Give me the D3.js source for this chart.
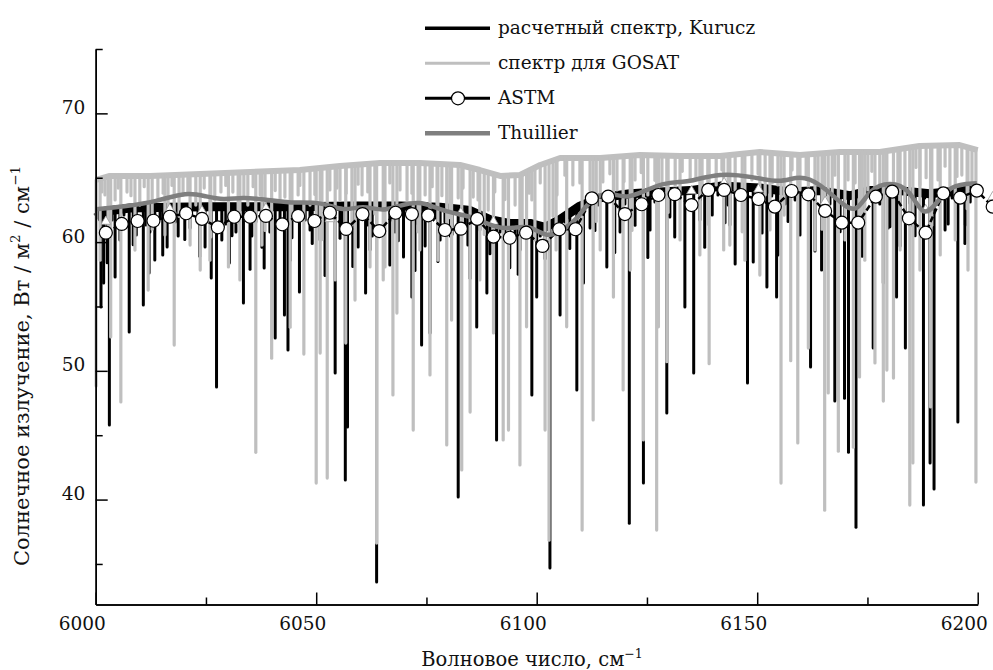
<!DOCTYPE html>
<html>
<head>
<meta charset="utf-8">
<script src="https://cdn.jsdelivr.net/npm/d3@7"></script>
<style>
  body { margin: 0; background: #fff; }
  svg { font-family: "DejaVu Serif", serif; }
</style>
</head>
<body>
<div id="chart"></div>
<script>
let width = 993,
    height = 670;

const fontFam = "DejaVu Serif";

// tick values
const xMajor = [6000, 6050, 6100, 6150, 6200];
const xMinor = [6025, 6075, 6125, 6175];
const yMajor = [40, 50, 60, 70];
const yMinor = [35, 45, 55, 65, 75];

// ASTM (circles)
const astmWn = [6002.3, 6005.9, 6009.5, 6013.1, 6016.8, 6020.5, 6024.1, 6027.7, 6031.4, 6035.0,
  6038.6, 6042.3, 6045.9, 6049.6, 6053.1, 6056.8, 6060.5, 6064.3, 6068.0, 6071.7,
  6075.4, 6079.2, 6082.8, 6086.5, 6090.2, 6093.9, 6097.6, 6101.3, 6105.1, 6108.8,
  6112.5, 6116.2, 6120.0, 6123.8, 6127.6, 6131.3, 6135.1, 6138.9, 6142.5, 6146.3,
  6150.3, 6154.0, 6157.8, 6161.6, 6165.4, 6169.2, 6172.9, 6176.9, 6180.6, 6184.4,
  6188.2, 6192.2, 6196.0, 6199.8, 6203.4];
const astmVal = [60.73, 61.41, 61.64, 61.66, 61.97, 62.24, 61.80, 61.15, 61.97, 61.97,
  62.03, 61.38, 62.03, 61.64, 62.28, 61.02, 62.18, 60.86, 62.28, 62.18,
  62.08, 60.94, 61.04, 61.80, 60.42, 60.34, 60.73, 59.70, 61.00, 61.00,
  63.40, 63.53, 62.18, 62.94, 63.66, 63.72, 62.88, 64.05, 64.05, 63.66,
  63.35, 62.75, 63.97, 63.71, 62.42, 61.51, 61.51, 63.53, 63.92, 61.85,
  60.73, 63.79, 63.45, 64.00, 62.75];

// small triangles partly hidden behind the circles
const triWn = [6002.3, 6016.8, 6024.1, 6038.6, 6053.1, 6082.8, 6090.2, 6135.1, 6142.5, 6150.3, 6165.4, 6188.2, 6203.4];
const triVal = [61.6, 62.57, 62.42, 62.63, 61.8, 62.28, 61.6, 63.97, 64.6, 64.1, 63.14, 62.5, 63.5];

// Thuillier
const thuWn = [6000.2, 6006.2, 6013.8, 6020.6, 6025.2, 6028.9, 6033.4, 6037.9, 6044.1, 6051.5,
  6056.1, 6060.6, 6065.1, 6069.0, 6073.5, 6076.5, 6079.6, 6083.3, 6086.4, 6090.9,
  6094.6, 6098.5, 6102.3, 6106.0, 6109.1, 6112.8, 6117.3, 6120.4, 6124.1, 6128.6,
  6132.5, 6134.7, 6141.5, 6149.0, 6155.2, 6159.7, 6164.2, 6169.4, 6172.6, 6175.6,
  6180.1, 6184.6, 6187.6, 6190.7, 6193.7, 6199.8];
const thuVal = [62.55, 62.75, 63.14, 63.92, 63.53, 63.27, 63.48, 63.33, 63.01, 63.14,
  62.36, 62.88, 62.36, 62.88, 63.14, 62.75, 62.36, 62.11, 61.85, 61.07,
  61.07, 61.33, 60.30, 60.94, 61.72, 63.66, 63.79, 63.40, 63.92, 64.57,
  64.69, 64.69, 65.39, 65.08, 64.57, 65.21, 64.57, 62.88, 62.24, 64.18,
  64.69, 64.18, 61.85, 63.01, 64.44, 64.57];

// Kurucz: middle of the dense band at the top of the spectrum
const kurContWn = [6000.1, 6002.1, 6007.8, 6016.8, 6025.9, 6035.0, 6046.3, 6057.7, 6069.0, 6078.1,
  6084.9, 6089.4, 6093.9, 6098.5, 6101.9, 6105.3, 6109.8, 6114.4, 6121.2, 6128.0,
  6134.8, 6141.6, 6150.6, 6157.4, 6164.2, 6171.0, 6175.5, 6182.3, 6189.1, 6195.9, 6200.0];
const kurContVal = [61.9, 62.4, 62.65, 62.7, 62.75, 62.75, 62.75, 62.8, 62.8, 62.7,
  62.45, 61.75, 61.45, 61.45, 61.15, 61.75, 62.8, 63.45, 63.75, 63.9,
  64.0, 64.35, 64.2, 63.9, 64.0, 63.6, 64.0, 64.0, 63.75, 64.0, 64.0];
// Kurucz absorption lines: position and line-core value
const kurLineWn = [6001.2, 6001.8, 6003.1, 6004.4, 6007.6, 6010.8, 6013.4, 6015.2, 6016.2, 6024.8,
  6026.2, 6027.4, 6030.3, 6033.5, 6038.2, 6040.7, 6042.8, 6043.6, 6046.2, 6054.3,
  6056.6, 6057.1, 6059.5, 6061.2, 6063.7, 6065.4, 6066.7, 6069.8, 6071.7, 6073.9,
  6075.8, 6082.2, 6086.4, 6088.7, 6090.9, 6098.9, 6100.0, 6103.0, 6105.3, 6109.1,
  6110.6, 6115.9, 6121.0, 6124.2, 6129.5, 6130.2, 6135.6, 6147.8, 6162.1, 6167.6,
  6169.8, 6170.7, 6172.4, 6176.3, 6183.6, 6187.7, 6189.2, 6190.1, 6195.5, 6133.6,
  6149.1, 6152.2, 6154.4, 6164.6, 6178.6, 6181.6,
  6005.5, 6009.2, 6012.3, 6018.7, 6021.4, 6028.6, 6031.8, 6035.4, 6039.5, 6044.5,
  6048.6, 6050.9, 6062.7, 6067.9, 6078.1, 6080.4, 6084.4, 6092.8, 6096.2, 6112.1,
  6118.9, 6125.7, 6137.0, 6139.8, 6143.8, 6157.4, 6159.7, 6173.3, 6179.7, 6185.1,
  6192.6, 6197.2,
  6002.6, 6008.5, 6012.1, 6020.2, 6023.6, 6030.9, 6035.0, 6037.7, 6044.1, 6049.1,
  6052.0, 6055.4, 6058.3, 6062.2, 6068.6, 6072.4, 6074.7, 6077.6, 6080.8, 6084.9,
  6089.4, 6093.9, 6095.8, 6101.9, 6107.5, 6113.2, 6117.7, 6122.3, 6125.2, 6131.3,
  6138.1, 6142.7, 6145.0, 6151.1, 6154.7, 6157.0, 6163.1, 6168.8, 6173.8, 6180.1,
  6182.4, 6185.8, 6193.3, 6197.1,
  6003.7, 6006.4, 6011.4, 6014.6, 6018.0, 6020.5, 6023.2, 6029.5, 6032.7, 6036.3,
  6039.1, 6041.8, 6045.2, 6047.5, 6050.4, 6052.7, 6055.8, 6058.8, 6061.7, 6067.2,
  6070.8, 6073.1, 6077.0, 6079.2, 6083.8, 6087.1, 6091.7, 6095.1, 6097.4, 6100.8,
  6106.4, 6113.9, 6117.1, 6120.0, 6123.4, 6126.8, 6132.5, 6137.0, 6141.1, 6143.4,
  6146.1, 6150.6, 6153.3, 6156.3, 6158.6, 6160.8, 6166.5, 6174.4, 6177.8, 6181.2,
  6184.6, 6188.0, 6191.4, 6194.2, 6198.3];
const kurLineMin = [54.96, 56.82, 45.79, 57.29, 53.01, 55.11, 58.61, 59.00, 59.62, 59.62,
  57.21, 48.74, 58.38, 55.27, 57.99, 52.55, 54.34, 51.62, 56.12, 49.83,
  41.52, 45.64, 59.62, 56.05, 33.59, 59.15, 58.22, 58.84, 55.73, 52.00,
  52.94, 40.20, 53.40, 56.05, 44.63, 48.13, 55.73, 34.68, 54.34, 48.51,
  56.82, 58.07, 38.17, 41.28, 46.72, 61.95, 49.83, 49.05, 50.29, 47.65,
  47.88, 43.68, 37.86, 51.77, 51.77, 39.57, 42.84, 40.82, 46.03, 54.96,
  58.45, 56.51, 55.73, 57.83, 56.82, 55.73,
  60.17, 60.56, 60.79, 60.48, 61.10, 60.17, 60.79, 60.48, 60.79, 60.33,
  60.94, 60.17, 60.48, 60.79, 60.17, 60.48, 59.78, 60.17, 59.39, 61.10,
  60.79, 60.94, 61.72, 62.11, 61.33, 61.72, 60.56, 61.56, 61.10, 61.33,
  60.94, 61.33,
  58.4, 59.8, 57.6, 60.2, 58.9, 60.5, 57.9, 59.6, 58.6, 59.9,
  57.4, 60.3, 58.1, 59.4, 60.1, 57.8, 59.7, 58.5, 60.6, 57.2,
  59.1, 58.0, 57.5, 58.7, 59.5, 60.9, 59.2, 61.3, 58.8, 60.4,
  59.6, 61.5, 58.3, 60.7, 59.0, 61.6, 59.3, 60.8, 58.9, 61.2,
  59.7, 60.5, 61.4, 59.9,
  61.72, 62.11, 61.33, 61.87, 61.56, 62.18, 61.72, 61.41, 62.03, 61.56,
  61.87, 61.25, 62.11, 61.72, 61.41, 62.03, 61.56, 61.87, 61.33, 61.72,
  62.03, 61.41, 61.87, 61.56, 61.25, 60.94, 60.79, 60.56, 60.94, 60.48,
  61.56, 62.88, 63.27, 62.96, 63.43, 63.12, 63.58, 63.27, 63.66, 62.88,
  63.43, 63.12, 63.58, 62.96, 63.27, 63.58, 62.96, 63.27, 62.96, 63.43,
  63.04, 63.43, 63.12, 63.43, 63.12];

// GOSAT: upper envelope and absorption lines
const gosContWn = [6000.1, 6003.2, 6012.3, 6023.7, 6035.0, 6046.3, 6055.4, 6064.5, 6073.5, 6082.6,
  6087.1, 6091.7, 6096.2, 6100.8, 6105.3, 6114.4, 6123.4, 6132.5, 6141.6, 6150.6,
  6159.7, 6168.7, 6177.8, 6186.8, 6195.9, 6200.0];
const gosContVal = [64.83, 65.14, 65.14, 65.29, 65.45, 65.60, 65.91, 66.15, 66.15, 65.99,
  65.60, 65.14, 65.21, 65.99, 66.53, 66.53, 66.77, 66.69, 66.69, 67.00,
  66.77, 67.00, 67.00, 67.47, 67.54, 67.15];
const gosLineWn = [6000.1, 6001.0, 6003.4, 6005.7, 6008.9, 6011.9, 6017.8, 6021.4, 6023.7, 6030.1,
  6032.7, 6036.3, 6039.9, 6044.1, 6047.2, 6050.0, 6050.9, 6052.5, 6056.7, 6058.8,
  6062.2, 6063.7, 6065.2, 6065.6, 6067.4, 6068.3, 6072.0, 6075.8, 6079.6, 6080.7,
  6083.0, 6084.9, 6090.2, 6092.4, 6093.6, 6096.2, 6097.7, 6101.9, 6102.8, 6106.8,
  6110.3, 6112.8, 6117.4, 6119.6, 6124.2, 6127.2, 6127.6, 6129.5, 6139.1, 6155.4,
  6157.6, 6159.2, 6161.6, 6165.3, 6166.1, 6168.4, 6171.8, 6173.2, 6176.7, 6178.6,
  6179.4, 6180.9, 6184.6, 6185.3, 6189.3, 6199.6, 6142.4, 6197.8,
  6015.7, 6025.9, 6037.7, 6054.3, 6073.5, 6077.6, 6087.1, 6099.6, 6104.4, 6114.4,
  6121.2, 6132.5, 6137.0, 6143.8, 6147.2, 6150.6, 6152.9, 6163.1, 6169.9, 6174.4,
  6182.4, 6186.9, 6191.5, 6194.9,
  6002.1, 6004.4, 6007.1, 6010.0, 6014.1, 6016.4, 6019.8, 6022.7, 6027.0, 6031.1,
  6034.5, 6037.3, 6041.8, 6045.9, 6048.6, 6053.1, 6055.4, 6060.4, 6069.0, 6070.6,
  6074.7, 6077.4, 6082.2, 6086.7, 6089.0, 6095.1, 6098.9, 6104.6, 6108.2, 6112.1,
  6115.0, 6118.2, 6122.3, 6125.2, 6128.4, 6131.4, 6134.8, 6137.5, 6140.7, 6145.0,
  6148.8, 6151.8, 6154.7, 6159.7, 6163.8, 6167.0, 6170.6, 6175.1, 6177.8, 6181.9,
  6186.9, 6191.0, 6193.7, 6196.4, 6198.7,
  6001.4, 6002.8, 6005.1, 6008.0, 6011.0, 6012.8, 6015.3, 6017.3, 6018.9, 6020.9,
  6024.6, 6026.1, 6028.4, 6029.5, 6032.3, 6033.6, 6035.7, 6038.4, 6040.7, 6042.9,
  6044.5, 6046.3, 6049.7, 6051.3, 6054.7, 6056.8, 6058.1, 6059.5, 6061.7, 6063.3,
  6066.7, 6071.7, 6073.1, 6076.3, 6078.5, 6080.3, 6083.3, 6085.6, 6088.1, 6090.5,
  6092.8, 6096.7, 6098.3, 6100.8, 6103.7, 6106.4, 6109.8, 6113.5, 6116.6, 6119.8,
  6121.6, 6123.7, 6126.8, 6129.8, 6133.0, 6136.1, 6138.8, 6142.0, 6143.4, 6146.6,
  6150.2, 6153.4, 6156.1, 6157.9, 6161.1, 6164.7, 6167.6, 6172.2, 6173.8, 6176.0,
  6179.2, 6183.5, 6186.0, 6188.3, 6189.6, 6192.6, 6195.3, 6197.6];
const gosLineMin = [48.83, 58.60, 52.63, 47.58, 59.38, 56.27, 52.00, 59.77, 57.83, 58.07,
  57.06, 43.67, 50.98, 53.39, 51.30, 41.28, 51.38, 41.67, 52.16, 55.50,
  58.07, 36.62, 57.06, 58.07, 48.13, 54.49, 45.40, 49.68, 44.24, 53.94,
  42.30, 46.80, 52.94, 44.63, 45.40, 42.69, 53.42, 45.40, 36.85, 53.42,
  37.63, 46.18, 55.73, 48.51, 44.63, 37.63, 53.42, 50.71, 50.56, 41.28,
  50.79, 44.40, 51.77, 39.17, 48.28, 43.76, 44.07, 49.52, 50.61, 47.65,
  50.06, 49.44, 39.57, 42.84, 47.19, 41.36, 59.39, 57.83,
  60.56, 58.60, 59.77, 57.06, 59.39, 58.60, 57.06, 60.17, 59.39, 59.39,
  57.83, 60.17, 59.00, 59.77, 58.60, 57.44, 60.94, 59.39, 60.17, 58.60,
  59.39, 57.83, 59.00, 60.17,
  63.66, 63.27, 63.89, 62.88, 63.43, 62.49, 63.66, 62.88, 63.27, 63.89,
  62.88, 63.66, 63.27, 63.66, 62.88, 64.05, 63.27, 63.66, 64.05, 63.27,
  63.66, 62.88, 63.43, 63.27, 62.49, 62.88, 63.27, 63.66, 64.44, 64.05,
  64.67, 64.05, 64.83, 63.66, 64.44, 64.05, 64.83, 63.89, 64.44, 64.05,
  64.83, 63.66, 64.44, 64.05, 64.44, 63.66, 64.83, 64.05, 64.44, 64.05,
  64.44, 64.83, 64.05, 65.21, 64.44,
  63.9, 60.5, 64.2, 63.6, 64.3, 61.0, 63.8, 64.4, 62.0, 63.7,
  64.2, 60.4, 63.9, 64.4, 61.5, 63.6, 64.3, 60.9, 64.0, 63.5,
  61.8, 64.4, 63.7, 60.2, 64.2, 63.8, 61.3, 64.5, 63.9, 62.2,
  64.6, 63.8, 60.8, 64.3, 63.6, 61.9, 64.2, 63.5, 60.6, 63.9,
  63.3, 61.2, 63.8, 64.6, 62.0, 65.2, 64.6, 61.6, 65.3, 64.7,
  60.9, 65.4, 64.8, 62.3, 65.5, 64.9, 61.4, 65.6, 64.7, 60.8,
  65.3, 64.6, 62.1, 65.6, 64.9, 61.0, 65.2, 64.6, 61.7, 65.5,
  64.8, 62.4, 65.8, 65.0, 61.3, 65.9, 65.1, 62.6];

const svg = d3.select("#chart")
    .append("svg")
    .attr("width", width)
    .attr("height", height)
    .attr("font-family", fontFam);

let x = d3.scaleLinear()
    .domain([6000, 6200])
    .range([95.7, 977.7]);

let y = d3.scaleLinear()
    .domain([31.85, 75])
    .range([604.5, 49]);

// continuum value at a wavenumber (linear between the read points)
function contAt(wns, vals, w) {
    let i = d3.bisectLeft(wns, w);
    if (i <= 0) return vals[0];
    if (i >= wns.length) return vals[vals.length - 1];
    let t = (w - wns[i - 1]) / (wns[i] - wns[i - 1]);
    return vals[i - 1] + t * (vals[i] - vals[i - 1]);
}

function drawSpectrum(contWn, contVal, lineWn, lineMin, color, cw, lw) {
    const g = svg.append("g");
    g.append("path")
        .datum(d3.zip(contWn, contVal))
        .attr("fill", "none")
        .attr("stroke", color)
        .attr("stroke-width", cw)
        .attr("stroke-linejoin", "round")
        .attr("d", d3.line().x(d => x(d[0])).y(d => y(d[1])));
    g.selectAll("line")
        .data(d3.zip(lineWn, lineMin))
        .join("line")
        .attr("x1", d => x(d[0]))
        .attr("x2", d => x(d[0]))
        .attr("y1", d => y(contAt(contWn, contVal, d[0])))
        .attr("y2", d => y(d[1]))
        .attr("stroke", color)
        .attr("stroke-width", lw)
        .attr("stroke-linecap", "round");
}

drawSpectrum(kurContWn, kurContVal, kurLineWn, kurLineMin, "#000", 9, 3);
drawSpectrum(gosContWn, gosContVal, gosLineWn, gosLineMin, "#bfbfbf", 6, 3.2);

// triangles
svg.append("g")
    .selectAll("path")
    .data(d3.zip(triWn, triVal))
    .join("path")
    .attr("transform", d => `translate(${x(d[0])},${y(d[1])})`)
    .attr("d", d3.symbol(d3.symbolTriangle, 40))
    .attr("fill", "#fff")
    .attr("stroke", "#999")
    .attr("stroke-width", 0.8);

// ASTM dashed line
svg.append("path")
    .datum(d3.zip(astmWn, astmVal))
    .attr("fill", "none")
    .attr("stroke", "#000")
    .attr("stroke-width", 2.5)
    .attr("stroke-dasharray", "6,3")
    .attr("d", d3.line().x(d => x(d[0])).y(d => y(d[1])));

// Thuillier
svg.append("path")
    .datum(d3.zip(thuWn, thuVal))
    .attr("fill", "none")
    .attr("stroke", "#7f7f7f")
    .attr("stroke-width", 4.5)
    .attr("d", d3.line().curve(d3.curveBasis).x(d => x(d[0])).y(d => y(d[1])));

// ASTM circles
svg.append("g")
    .selectAll("circle")
    .data(d3.zip(astmWn, astmVal))
    .join("circle")
    .attr("cx", d => x(d[0]))
    .attr("cy", d => y(d[1]))
    .attr("r", 6.5)
    .attr("fill", "#fff")
    .attr("stroke", "#000")
    .attr("stroke-width", 1.2);

// axes
const axisStyle = g => {
    g.attr("font-family", fontFam);
    g.select(".domain").attr("stroke", "#000").attr("stroke-width", 1.5);
    g.selectAll(".tick line").attr("stroke", "#000").attr("stroke-width", 1.5);
    g.selectAll(".tick text").attr("font-size", 18.5).attr("fill", "#111");
};

svg.append("g")
    .attr("transform", `translate(0,${y(31.85)})`)
    .call(d3.axisBottom(x).tickValues(xMinor).tickSize(-7).tickSizeOuter(0).tickFormat(""))
    .call(axisStyle);

svg.append("g")
    .attr("transform", `translate(0,${y(31.85)})`)
    .call(d3.axisBottom(x).tickValues(xMajor).tickSize(-12).tickSizeOuter(0).tickPadding(12.5).tickFormat(d3.format("d")))
    .call(axisStyle)
    .call(g => g.selectAll(".tick text").attr("dx", -14));

svg.append("g")
    .attr("transform", `translate(${x(6000)},0)`)
    .call(d3.axisLeft(y).tickValues(yMinor).tickSize(-7).tickSizeOuter(0).tickFormat(""))
    .call(axisStyle);

svg.append("g")
    .attr("transform", `translate(${x(6000)},0)`)
    .call(d3.axisLeft(y).tickValues(yMajor).tickSize(-12).tickSizeOuter(0).tickPadding(10.5))
    .call(axisStyle)
    .call(g => g.selectAll(".tick text").attr("dy", "0"));

// axis titles
const xt = svg.append("text")
    .attr("x", 532)
    .attr("y", 666)
    .attr("text-anchor", "middle")
    .attr("font-size", 19.5)
    .attr("fill", "#111");
xt.append("tspan").text("Волновое число, см");
xt.append("tspan").attr("font-size", 12.5).attr("dy", -8).text("−1");

const yt = svg.append("text")
    .attr("transform", "translate(29,366) rotate(-90)")
    .attr("text-anchor", "middle")
    .attr("font-size", 21)
    .attr("fill", "#111");
yt.append("tspan").text("Солнечное излучение, Вт / м");
yt.append("tspan").attr("font-size", 13.5).attr("dy", -9).text("2");
yt.append("tspan").attr("dy", 9).text(" / см");
yt.append("tspan").attr("font-size", 13.5).attr("dy", -9).text("−1");

// legend
const legendNames = ["расчетный спектр, Kurucz", "спектр для GOSAT", "ASTM", "Thuillier"];
const legendColors = ["#000", "#bfbfbf", "#000", "#7f7f7f"];
const legendWidths = [3.5, 3, 3, 4.5];
const lg = svg.append("g").selectAll("g")
    .data(legendNames)
    .join("g")
    .attr("transform", (d, i) => `translate(425,${28.3 + i * 35})`);
lg.append("line")
    .attr("x1", 0).attr("x2", 65)
    .attr("stroke", (d, i) => legendColors[i])
    .attr("stroke-width", (d, i) => legendWidths[i]);
lg.filter((d, i) => i === 2).append("circle")
    .attr("cx", 33).attr("r", 6.5)
    .attr("fill", "#fff").attr("stroke", "#000").attr("stroke-width", 1.2);
lg.append("text")
    .attr("x", 73)
    .attr("y", 6)
    .attr("font-size", 18.5)
    .attr("fill", "#111")
    .text(d => d);
</script>
</body>
</html>
